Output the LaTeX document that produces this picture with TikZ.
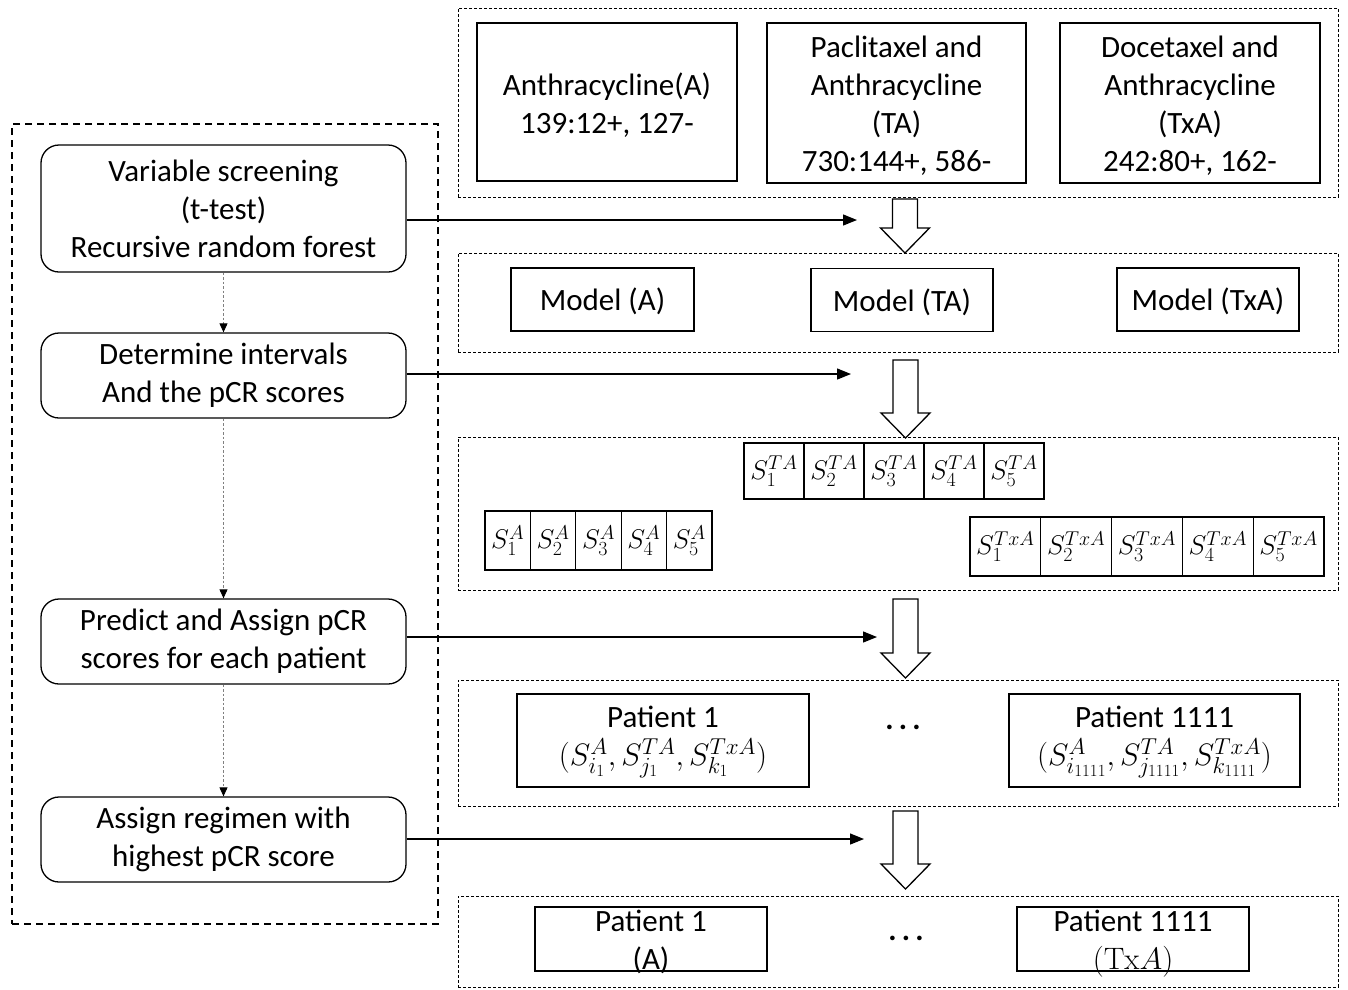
\documentclass[tikz,border=0pt]{standalone}
\usepackage{fix-cm}
\usepackage[no-math]{fontspec}
\setmainfont{Carlito}
\usetikzlibrary{arrows.meta}
\DeclareMathSizes{31}{31}{23}{17}
\DeclareMathSizes{27}{27}{20}{15}
\newcommand{\bigtxt}{\fontsize{31}{38}\selectfont}
\newcommand{\celltxt}{\fontsize{27}{30}\selectfont}
\tikzset{
  pics/hollowarrow/.style={code={
    \draw[line width=1.3pt, fill=white] (-12.5,0) -- (12.5,0) -- (12.5,#1) -- (24.5,#1)
      -- (0,{#1+25}) -- (-24.5,#1) -- (-12.5,#1) -- cycle;}}
}
\begin{document}
\begin{tikzpicture}[x=1pt,y=-1pt,
  every node/.style={font=\bigtxt, align=center, inner sep=0pt},
  rbox/.style={draw, line width=1.3pt, rounded corners=18pt, minimum width=365pt, minimum height=85pt},
  sbox/.style={draw, line width=1.3pt},
  dbox/.style={draw, line width=1pt, dash pattern=on 3pt off 2pt, minimum width=880pt},
  ldbox/.style={draw, line width=1.3pt, dash pattern=on 7pt off 5pt},
  flow/.style={-{Triangle[length=14pt,width=11pt]}, line width=1.3pt},
  dotflow/.style={-{Triangle[length=9pt,width=8pt,color=black]}, line width=0.9pt, gray, dash pattern=on 2.5pt off 2pt},
  scell/.style={draw, line width=1.2pt, font=\celltxt}
]
\useasboundingbox (0,0) rectangle (1348,989);

% left dashed frame
\node[ldbox, minimum width=426pt, minimum height=800pt] (L) at (225,524) {};

% left rounded boxes
\node[rbox, minimum height=127pt] (b1) at (223.5,208.5) {Variable screening\\(t-test)\\Recursive random forest};
\node[rbox] (b2) at (223.5,375.5) {Determine intervals\\And the pCR scores};
\node[rbox] (b3) at (223.5,641.5) {Predict and Assign pCR\\scores for each patient};
\node[rbox] (b4) at (223.5,839.5) {Assign regimen with\\highest pCR score};

\draw[dotflow] (b1.south) -- (b2.north);
\draw[dotflow] (b2.south) -- (b3.north);
\draw[dotflow] (b3.south) -- (b4.north);

% right dashed frames
\node[dbox, minimum height=189pt] (R1) at (898,102.5) {};
\node[dbox, minimum height=99pt]  (R2) at (898,302.5) {};
\node[dbox, minimum height=153pt] (R3) at (898,513.5) {};
\node[dbox, minimum height=126pt] (R4) at (898,743) {};
\node[dbox, minimum height=91pt]  (R5) at (898,941.5) {};

% R1 boxes
\node[sbox, minimum width=260pt, minimum height=158pt] (dA) at (607,102) {};
\node (dAt) at (607,105) {Anthracycline(A)\\139:12+, 127-};
\node[sbox, minimum width=259pt, minimum height=160pt] (dTA) at (896.5,103) {};
\node (dTAt) at (896.5,106) {Paclitaxel and\\Anthracycline\\(TA)\\730:144+, 586-};
\node[sbox, minimum width=260pt, minimum height=160pt] (dTxA) at (1190,103) {};
\node (dTxAt) at (1190,106) {Docetaxel and\\Anthracycline\\(TxA)\\242:80+, 162-};

% R2 boxes
\node[sbox, minimum width=183pt, minimum height=63pt] (mA) at (602.5,299.5) {};
\node (mAt) at (602.5,301) {Model (A)};
\node[sbox, minimum width=182pt, minimum height=63pt] (mTA) at (902,300) {};
\node (mTAt) at (902,302) {Model (TA)};
\node[sbox, minimum width=182pt, minimum height=63pt] (mTxA) at (1208,299.5) {};
\node (mTxAt) at (1208,301) {Model (TxA)};

% R3 cells
\foreach \i in {1,...,5}{
  \node[scell, minimum width=60pt, minimum height=56pt] (ta\i) at ({744+60*(\i-0.5)},471) {$S^{TA}_{\i}$};
  \node[scell, minimum width=45.4pt, minimum height=59pt] (a\i) at ({485+45.4*(\i-0.5)},540.5) {$S^{A}_{\i}$};
  \node[scell, minimum width=70.8pt, minimum height=59pt] (txa\i) at ({970+70.8*(\i-0.5)},546.5) {$S^{TxA}_{\i}$};
}

% R4 patients
\node[sbox, minimum width=292pt, minimum height=93pt] (p1) at (663,740.5) {};
\node (p1t) at (663,742) {Patient 1\\$(S^{A}_{i_1}, S^{TA}_{j_1}, S^{TxA}_{k_1})$};
\node (dots1) at (903,727) {\textbf{.\,.\,.}};
\node[sbox, minimum width=291pt, minimum height=93pt] (pN) at (1154.5,740.5) {};
\node (pNt) at (1154.5,742) {Patient 1111\\$(S^{A}_{i_{1111}}, S^{TA}_{j_{1111}}, S^{TxA}_{k_{1111}})$};

% R5 assignments
\node[sbox, minimum width=232pt, minimum height=64pt] (q1) at (651,939) {};
\node (q1t) at (651,942) {Patient 1\\(A)};
\node (dots2) at (906,938) {\textbf{.\,.\,.}};
\node[sbox, minimum width=232pt, minimum height=64pt] (qN) at (1133,939) {};
\node (qNt) at (1133,944) {Patient 1111\\$(\mathrm{Tx}A)$};

% hollow arrows
\pic at (905,199) {hollowarrow=29};
\pic at (905.5,360) {hollowarrow=53};
\pic at (905.5,599) {hollowarrow=54};
\pic at (905.5,811) {hollowarrow=53};

% horizontal arrows
\coordinate (t1) at (857,220);
\coordinate (t2) at (851,374);
\coordinate (t3) at (877,637);
\coordinate (t4) at (864,839);
\draw[flow] (b1.east |- t1) -- (t1);
\draw[flow] (b2.east |- t2) -- (t2);
\draw[flow] (b3.east |- t3) -- (t3);
\draw[flow] (b4.east |- t4) -- (t4);
\end{tikzpicture}
\end{document}
